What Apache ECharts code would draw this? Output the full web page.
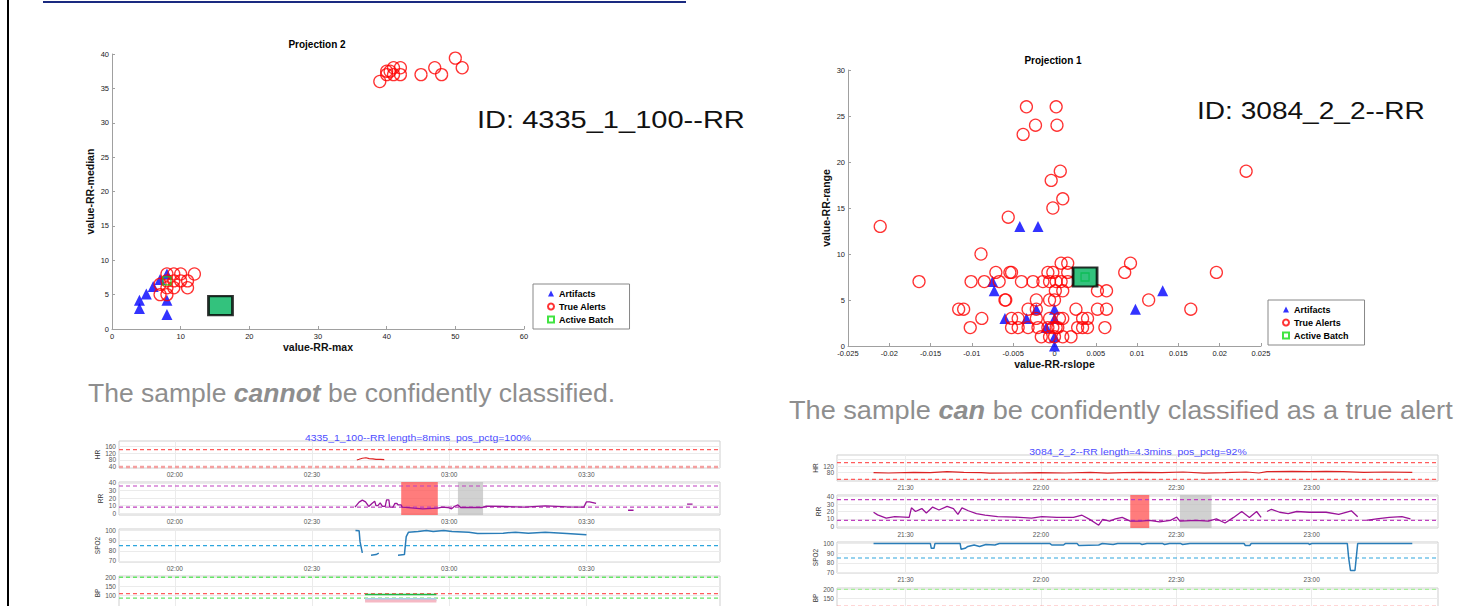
<!DOCTYPE html>
<html><head><meta charset="utf-8">
<script src="https://cdn.jsdelivr.net/npm/echarts@6/dist/echarts.min.js"></script>
<style>html,body{margin:0;padding:0;background:#fff;overflow:hidden}#c{width:1460px;height:606px}</style>
</head><body><div id="c"></div>
<script>
// ---------------- DATA ----------------
// Projection 2 (left scatter): [value-RR-max, value-RR-median]
const leftArtifacts = [[4,3],[4,4.2],[5,5.1],[6,6.2],[7,7.2],[8,8],[8,4.2],[8,2.1]];
const leftTrueAlerts = [[39,36],[40,37.5],[40,37],[41,38],[41,37],[42,38],[42,37],[40.5,37.5],[45,37],[47,38],[48,37],[50,39.4],[51,38],
  [7,6.5],[8,8],[9,8],[10,8],[12,8],[8,5],[7,5],[9,6],[11,6],[11,7],[10,7],[9,7],[8,6],[8,7]];
const leftActiveBatch = [[8,7]];
const leftSample = [[15.8,3.4]];
const leftXTicks = [0,10,20,30,40,50,60];
const leftYTicks = [0,5,10,15,20,25,30,35,40];

// Projection 1 (right scatter): [value-RR-rslope, value-RR-range]
const rightArtifacts = [[-0.0042,13],[-0.002,13],[-0.0075,7],[-0.0073,6],[0.0131,6],[0.0098,4],[-0.006,3],[-0.0034,3],[-0.0022,4],[0,4],[0,3],[-0.001,2],[0,1],[0,0]];
const rightTrueAlerts = [[-0.0034,26],[0.0002,26],[-0.0023,24],[0.0003,24],[-0.0038,23],[0.0007,19],[-0.0004,18],[0.001,16],[-0.0002,15],[-0.0056,14],[-0.0211,13],[-0.0089,10],[0.0232,19],[0.0196,8],[0.0165,4],[0.0114,5],[0.0092,9],[0.0085,8],
  [-0.0164,7],[-0.0101,7],[-0.0085,7],[-0.0071,8],[-0.0067,7],[-0.0054,8],[-0.0052,8],[-0.004,7],[-0.0026,7],[-0.0014,7],[-0.0006,7],[0.0002,7],[0.0008,7],[0.0016,7],[-0.0008,8],[-0.0002,8],[0.0008,9],[0.0016,9],[0.0016,8],
  [0.0052,6],[0.0063,6],[0.0001,6],[0.001,6],
  [-0.006,5],[-0.0059,5],[-0.0022,5],[-0.0006,5],[0,5],
  [-0.0116,4],[-0.011,4],[-0.0032,4],[-0.0022,4],[0.0026,4],[0.0052,4],[0.0063,4],
  [-0.0088,3],[-0.0052,3],[-0.0044,3],[-0.0022,3],[-0.0006,3],[0.0006,3],[0.001,3],[0.0034,3],[0.004,3],
  [-0.0102,2],[-0.0052,2],[-0.0044,2],[-0.0032,2],[-0.002,2],[-0.0008,2],[-0.0002,2],[0.0002,2],[0.0004,2],[0.0028,2],[0.0034,2],[0.004,2],[0.0061,2],
  [-0.0016,1],[-0.0006,1],[0,1],[0.001,1],[0.002,1]];
const rightActiveBatch = [[0.0037,7.5]];
const rightSample = [[0.0037,7.5]];
const rightXTicks = [-0.025,-0.02,-0.015,-0.01,-0.005,0,0.005,0.01,0.015,0.02,0.025];
const rightYTicks = [0,5,10,15,20,25,30];

// Time-series panels: [minutes since midnight, value]; '-' marks a gap
const leftHR = [[159.8,80],[160.3,84],[161,90],[161.8,93],[162.5,88],[163.3,86],[164,84],[165,83],[165.8,82]];
const leftRR = [[159.4,8],[160.3,14.7],[161,17.3],[161.7,15],[162.4,9],[163.1,13],[163.7,16],[164,10],[164.4,10],[164.9,13.8],[165.4,9],[166,9],[166.3,17.8],[166.8,17.8],[167,8],[167.7,8],[168.1,12.9],[168.6,12.9],[168.8,11],[169.5,11],[169.7,8],[172.3,6.7],[174.2,5.8],[177.5,6.7],[178.4,8],[179.7,7.6],[180.5,5.8],[181.1,8.9],[181.9,11],[182.5,7.6],[187.1,7.6],[188.1,9.3],[191.8,8.9],[196.4,8],[201,9.8],[205.7,8.4],[209.4,8],[210,15],[210.7,15],[211.4,14],[212.1,12.9],[213,'-'],[219.1,4],[220.3,4],[221,'-'],[232,12],[233.2,12]];
const leftSPO2 = [[159.5,100],[160.3,99.7],[160.5,89],[161,78],[161.1,'-'],[162.9,75.7],[164,76.3],[164.6,77.7],[164.7,'-'],[168.8,75.7],[170.2,76.3],[170.6,94],[171.1,98.3],[173.2,99],[175,100],[176.5,99],[178.8,100],[180.6,99],[184.3,98.3],[186.2,97],[191.8,97.3],[194.5,98.3],[197.3,97.3],[201,98.3],[205.7,97],[210,95.7]];
const leftBPSys = [[161.6,105],[177.2,105]];
const leftBPMean = [[161.6,78],[177.2,78]];
const leftBPDia = [[161.6,69],[177.2,69]];
const leftAlertWindow = [169.5,177.5];
const leftActiveWindow = [181.9,187.4];

const rightHR = [[1282.9,80],[1286.2,78],[1291.8,82],[1295.5,80],[1299.2,86],[1302.9,82],[1306.7,80],[1308.6,77],[1314.2,78],[1319.8,80],[1325.4,78],[1330.9,82],[1334.7,77],[1338.4,80],[1342.1,82],[1346.8,80],[1351.5,84],[1356.2,77],[1360.8,80],[1365.5,84],[1368.3,78],[1370.1,86],[1375.7,88],[1379.5,86],[1383.2,88],[1387,86],[1391.6,82],[1396.3,84],[1402.3,82]];
const rightRR = [[1282.9,19],[1283.8,15.5],[1285.7,11],[1287.6,13],[1290.8,12],[1291.3,25],[1292.2,20],[1293.6,24],[1294.6,18],[1296,26],[1297.4,22],[1299.2,27],[1300.6,24],[1301.6,16],[1302.5,25],[1303.9,21],[1305.7,17],[1307.6,15],[1310.4,13],[1314.2,12.5],[1317.9,11],[1320.2,13],[1323.5,12],[1327.2,12],[1329.1,15],[1330.9,9],[1332.8,1.5],[1333.7,9.5],[1335.2,7],[1336.5,10],[1338,12],[1339.8,7],[1342.1,7],[1344,8],[1346.3,6],[1348.7,8],[1350.1,12.5],[1350.8,7],[1354.3,8],[1357.1,7],[1358.9,10],[1360.8,4.5],[1362.7,12],[1364.5,20],[1366.2,12],[1367.8,20],[1368.8,12],[1369.3,'-'],[1370.1,20],[1371.1,23],[1372.9,19],[1374.8,17],[1376.7,20],[1379.5,19],[1383.2,19],[1386,16],[1388.8,21],[1390.2,13],[1390.8,'-'],[1392.1,8],[1394.4,10],[1397.2,12],[1400,13],[1401.9,10]];
const rightSPO2 = [[1282.9,100],[1295.5,100],[1295.7,95],[1296.3,95],[1296.5,100],[1302.1,100],[1302.3,94],[1303.2,95],[1303.8,97],[1305.2,98.5],[1306.4,97],[1307.8,99],[1309.8,98.5],[1310.8,100],[1322,100],[1322.4,98.5],[1325,98.5],[1325.4,100],[1328,100],[1328.4,98],[1332.8,98.5],[1333.6,100],[1336,99],[1337,100],[1342,100],[1342.4,99],[1343.5,100],[1347,100],[1347.4,99],[1348.5,100],[1351,100],[1351.4,99],[1353,100],[1365,100],[1365.3,98],[1366.3,98],[1366.6,100],[1379.3,100],[1379.5,99],[1380,100],[1387.9,100],[1388.2,85],[1388.6,72],[1389.6,72],[1389.9,86],[1390.2,100],[1402.3,100]];
const rightAlertWindow = [1339.8,1344];
const rightActiveWindow = [1350.8,1357.8];

const hrLimits = [140,40];
const rrLimits = [36,8];
const spo2Limits = [85];
const bpUpper = [200];
const bpRed = [110];
const bpLower = [85];
const leftTimeTicks = [120,150,180,210];
const rightTimeTicks = [1290,1320,1350,1380];
const hrTicks = [40,80,120,160];
const rrTicks = [0,10,20,30,40];
const spo2Ticks = [70,80,90,100];
const bpTicksLeft = [100,150,200];
const bpTicksRight = [150,200];

// ---------------- CHART ----------------
const FONT = '"Liberation Sans", Arial, Helvetica, sans-serif';
const grids = [], xAxes = [], yAxes = [], series = [];
function hhmm(v){ const m = ((Math.round(v) % 1440) + 1440) % 1440; return String(Math.floor(m/60)).padStart(2,'0') + ':' + String(m%60).padStart(2,'0'); }

function scatterPlot(box, xr, yr, xName, yName, sets, xFmt) {
  const gi = grids.length;
  grids.push({left: box[0], top: box[1], width: box[2], height: box[3], outerBoundsMode: 'none', containLabel: false});
  const axCommon = {
    axisLine: {show: true, onZero: false, lineStyle: {color: '#a0a0a0', width: 1}},
    axisTick: {show: true, inside: true, length: 3, lineStyle: {color: '#a0a0a0'}},
    splitLine: {show: false},
    nameLocation: 'middle',
    nameTextStyle: {fontSize: 10.5, fontWeight: 'bold', color: '#111', fontFamily: FONT}
  };
  xAxes.push(Object.assign({}, axCommon, {gridIndex: gi, type: 'value', min: xr[0], max: xr[xr.length-1], interval: xr[1]-xr[0],
    name: xName, nameGap: 12,
    axisLabel: {fontSize: 7.5, color: '#222', margin: 3, fontFamily: FONT, formatter: xFmt || (v => String(v))}}));
  yAxes.push(Object.assign({}, axCommon, {gridIndex: gi, type: 'value', min: yr[0], max: yr[yr.length-1], interval: yr[1]-yr[0],
    name: yName, nameGap: 17,
    axisLabel: {fontSize: 7.5, color: '#222', margin: 3, fontFamily: FONT}}));
  const base = {type: 'scatter', xAxisIndex: gi, yAxisIndex: gi, silent: true};
  series.push(Object.assign({}, base, {name: 'Artifacts', data: sets.artifacts, symbol: 'triangle', symbolSize: 11, itemStyle: {color: '#0000ff'}, z: 2}));
  series.push(Object.assign({}, base, {name: 'True Alerts', data: sets.alerts, symbol: 'circle', symbolSize: 12, itemStyle: {color: 'rgba(255,255,255,0)', borderColor: '#ff0000', borderWidth: 1.3}, z: 3}));
  series.push(Object.assign({}, base, {name: 'Active Batch', data: sets.batch, symbol: 'rect', symbolSize: 8, itemStyle: {color: 'rgba(255,255,255,0)', borderColor: '#11dd11', borderWidth: 1.3}, z: 4}));
  series.push(Object.assign({}, base, {name: 'Sample', data: sets.sample, symbol: 'rect', symbolSize: [24,19], itemStyle: {color: '#00b35c', borderColor: '#000', borderWidth: 2.5}, z: 5}));
}

function panel(p) {
  const gi = grids.length;
  grids.push({left: p.box[0], top: p.box[1], width: p.box[2], height: p.box[3], show: true, borderColor: '#cfcfcf', borderWidth: 1,
    backgroundColor: '#fff', outerBoundsMode: 'none', containLabel: false});
  xAxes.push({gridIndex: gi, type: 'value', min: p.x[0], max: p.x[1],
    axisLine: {show: false}, axisTick: {show: false, customValues: p.xTicks},
    axisLabel: {show: p.xLabels !== false, customValues: p.xTicks, formatter: hhmm, fontSize: 6.5, color: '#555', margin: 3, fontFamily: FONT},
    splitLine: {show: true, lineStyle: {color: '#ebebeb', width: 1}}});
  yAxes.push({gridIndex: gi, type: 'value', min: p.y[0], max: p.y[1],
    name: p.name, nameLocation: 'middle', nameGap: 15, nameRotate: 90,
    nameTextStyle: {fontSize: 6.5, color: '#333', fontFamily: FONT},
    axisLine: {show: false}, axisTick: {show: false, customValues: p.yTicks},
    axisLabel: {customValues: p.yTicks, fontSize: 6.5, color: '#555', margin: 3, fontFamily: FONT},
    splitLine: {show: true, lineStyle: {color: '#ebebeb', width: 1}}});
  (p.limits || []).forEach(l => {
    series.push({type: 'line', xAxisIndex: gi, yAxisIndex: gi, data: [[p.x[0], l.v], [p.x[1], l.v]], symbol: 'none', silent: true,
      lineStyle: {color: l.c, width: l.w || 1.2, type: [4,3]}, z: 2});
  });
  const areas = (p.areas || []).map(a => [{xAxis: a.r[0], itemStyle: {color: a.c}}, {xAxis: a.r[1]}]);
  p.lines.forEach((ln, i) => {
    const s = {type: 'line', xAxisIndex: gi, yAxisIndex: gi, data: ln.data, showSymbol: false, symbol: 'none', silent: true,
      lineStyle: {color: ln.c, width: ln.w || 1.2}, connectNulls: false, z: 3};
    if (i === 0 && areas.length) s.markArea = {silent: true, data: areas};
    series.push(s);
  });
}

scatterPlot([112,54,412,275], leftXTicks, leftYTicks, 'value-RR-max', 'value-RR-median',
  {artifacts: leftArtifacts, alerts: leftTrueAlerts, batch: leftActiveBatch, sample: leftSample});
scatterPlot([848,70,413,276], rightXTicks, rightYTicks, 'value-RR-rslope', 'value-RR-range',
  {artifacts: rightArtifacts, alerts: rightTrueAlerts, batch: rightActiveBatch, sample: rightSample},
  v => (Math.abs(v) < 1e-9 ? '0' : String(+v.toFixed(3))));

const LX = [107.8, 239.2], RX = [1274.8, 1408];
const red = '#ff5c5c', purple = '#bf40bf', cyan = '#2ea6dd', green = '#66e666';
// left panels
panel({box: [119,441,601,27], x: LX, xTicks: leftTimeTicks, y: [34,189], yTicks: hrTicks, name: 'HR',
  lines: [{data: leftHR, c: '#dd2222'}], limits: [{v: hrLimits[0], c: red}, {v: hrLimits[1], c: '#f4a0a0', w: 2.5}]});
panel({box: [119,482,601,33], x: LX, xTicks: leftTimeTicks, y: [-2.3,41.3], yTicks: rrTicks, name: 'RR',
  lines: [{data: leftRR, c: '#9a149a', w: 1.3}], limits: rrLimits.map(v => ({v, c: purple})),
  areas: [{r: leftAlertWindow, c: 'rgba(255,80,80,0.75)'}, {r: leftActiveWindow, c: 'rgba(190,190,190,0.7)'}]});
panel({box: [119,529,601,33], x: LX, xTicks: leftTimeTicks, y: [69,101.4], yTicks: spo2Ticks, name: 'SPO2',
  lines: [{data: leftSPO2, c: '#2a7db8', w: 1.5}], limits: spo2Limits.map(v => ({v, c: cyan}))});
panel({box: [119,576,601,34], x: LX, xTicks: leftTimeTicks, xLabels: false, y: [20,207], yTicks: bpTicksLeft, name: 'BP',
  lines: [{data: leftBPSys, c: '#22bb44', w: 1.5}, {data: leftBPMean, c: '#a8cfe8', w: 3}, {data: leftBPDia, c: '#f5b8c4', w: 3}],
  limits: [{v: bpUpper[0], c: green, w: 1.3}, {v: bpRed[0], c: red}, {v: bpLower[0], c: green, w: 1.3}]});
// right panels
panel({box: [837,455,601,26], x: RX, xTicks: rightTimeTicks, y: [30,186], yTicks: hrTicks, name: 'HR',
  lines: [{data: rightHR, c: '#dd2222'}], limits: hrLimits.map(v => ({v, c: red}))});
panel({box: [837,495,601,33], x: RX, xTicks: rightTimeTicks, y: [-2.3,42.3], yTicks: rrTicks, name: 'RR',
  lines: [{data: rightRR, c: '#9a149a', w: 1.3}], limits: rrLimits.map(v => ({v, c: purple})),
  areas: [{r: rightAlertWindow, c: 'rgba(255,80,80,0.75)'}, {r: rightActiveWindow, c: 'rgba(190,190,190,0.7)'}]});
panel({box: [837,542,601,31], x: RX, xTicks: rightTimeTicks, y: [69.4,101.6], yTicks: spo2Ticks, name: 'SPO2',
  lines: [{data: rightSPO2, c: '#2a7db8', w: 1.5}], limits: spo2Limits.map(v => ({v, c: cyan}))});
panel({box: [837,588,601,20], x: RX, xTicks: rightTimeTicks, xLabels: false, y: [100.6,207], yTicks: bpTicksRight, name: 'BP',
  lines: [], limits: [{v: bpUpper[0], c: '#a6ee9a', w: 1.3}, {v: bpRed[0], c: red}]});

function txt(x, y, text, o) {
  o = o || {};
  return {type: 'text', x, y, scaleX: o.sx || 1, silent: true, z: 100, style: Object.assign({
    text, fontFamily: FONT, fontSize: 10, fill: '#000',
    textAlign: o.align || 'left', textVerticalAlign: 'middle', align: o.align || 'left', verticalAlign: 'middle'
  }, o.style || {})};
}
const legendCommon = {orient: 'vertical', data: ['Artifacts','True Alerts','Active Batch'], selectedMode: false,
  itemWidth: 6, itemHeight: 6, itemGap: 4, padding: [5,16,5,14], borderColor: '#888', borderWidth: 1,
  backgroundColor: '#fff', textStyle: {fontSize: 9, fontWeight: 'bold', color: '#000', fontFamily: FONT}};
const richB = {b: {fontSize: 25, fontWeight: 'bold', fontStyle: 'italic', fill: '#8e8e8e', fontFamily: FONT}};

const option = {
  animation: false,
  backgroundColor: '#fff',
  textStyle: {fontFamily: FONT},
  grid: grids, xAxis: xAxes, yAxis: yAxes, series,
  legend: [Object.assign({}, legendCommon, {left: 533, top: 284}), Object.assign({}, legendCommon, {left: 1268, top: 300})],
  graphic: [
    {type: 'rect', shape: {x: 7, y: 0, width: 2, height: 606}, style: {fill: '#000'}, silent: true},
    {type: 'rect', shape: {x: 43, y: 1, width: 643, height: 2}, style: {fill: '#1a2a80'}, silent: true},
    txt(317, 44, 'Projection 2', {align: 'center', style: {fontSize: 10, fontWeight: 'bold'}}),
    txt(1053, 60, 'Projection 1', {align: 'center', style: {fontSize: 10, fontWeight: 'bold'}}),
    txt(477, 120, 'ID: 4335_1_100--RR', {sx: 1.21, style: {fontSize: 24, fill: '#111'}}),
    txt(1197, 111, 'ID: 3084_2_2--RR', {sx: 1.17, style: {fontSize: 24, fill: '#111'}}),
    txt(88, 393, 'The sample {b|cannot} be confidently classified.', {sx: 1.06, style: {fontSize: 25, fill: '#8e8e8e', rich: richB}}),
    txt(789, 410, 'The sample {b|can} be confidently classified as a true alert', {sx: 1.086, style: {fontSize: 25, fill: '#8e8e8e', rich: richB}}),
    txt(418, 438, '4335_1_100--RR length=8mins  pos_pctg=100%', {align: 'center', sx: 1.16, style: {fontSize: 9, fill: '#4b4bff'}}),
    txt(1138, 452, '3084_2_2--RR length=4.3mins  pos_pctg=92%', {align: 'center', sx: 1.16, style: {fontSize: 9, fill: '#4b4bff'}})
  ]
};
const chart = echarts.init(document.getElementById('c'), null, {renderer: 'svg', width: 1460, height: 606});
chart.setOption(option);
</script></body></html>
